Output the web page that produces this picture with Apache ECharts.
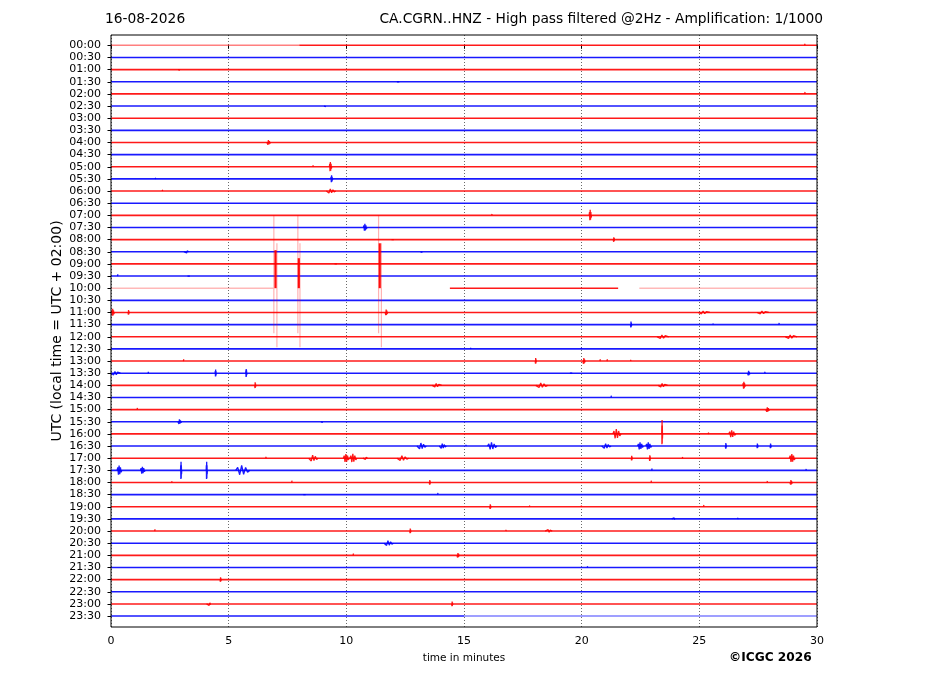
<!DOCTYPE html>
<html>
<head>
<meta charset="utf-8">
<script src="https://cdn.jsdelivr.net/npm/echarts@6/dist/echarts.min.js"></script>
<style>html,body{margin:0;padding:0;background:#fff}#c{width:927px;height:696px}</style>
</head>
<body>
<div id="c"></div>
<script>
// ---- tick labels ----
const timeLabels = ['00:00','00:30','01:00','01:30','02:00','02:30','03:00','03:30','04:00','04:30',
  '05:00','05:30','06:00','06:30','07:00','07:30','08:00','08:30','09:00','09:30',
  '10:00','10:30','11:00','11:30','12:00','12:30','13:00','13:30','14:00','14:30',
  '15:00','15:30','16:00','16:30','17:00','17:30','18:00','18:30','19:00','19:30',
  '20:00','20:30','21:00','21:30','22:00','22:30','23:00','23:30'];
const minuteTicks = [0, 5, 10, 15, 20, 25, 30];

// ---- events per row: [minute, amplitude up (rows), duration (min), amplitude down (rows, optional)] ----
const rowEvents = [
  [[29.5,0.12,0.06]],
  [],
  [[2.9,0.1,0.1]],
  [[12.2,0.15,0.1]],
  [[29.5,0.15,0.06]],
  [[9.1,0.1,0.1]],
  [],
  [],
  [[6.7,0.2,0.15]],
  [],
  [[8.6,0.12,0.05],[9.33,0.4,0.1]],
  [[1.9,0.1,0.05],[9.38,0.3,0.08]],
  [[2.2,0.1,0.05],[9.35,0.18,0.4]],
  [],
  [[16.2,0.1,0.05],[20.37,0.45,0.1]],
  [[10.8,0.3,0.15]],
  [[11.97,0.15,0.1],[21.37,0.2,0.05]],
  [[3.2,0.12,0.2],[13.2,0.1,0.1]],
  [[9.55,0.15,0.1]],
  [[0.3,0.15,0.05],[3.3,0.15,0.1]],
  [],
  [],
  [[0.08,0.3,0.12],[0.75,0.2,0.05],[11.7,0.25,0.1],[25.2,0.12,0.5],[27.7,0.12,0.5]],
  [[22.1,0.25,0.05],[25.6,0.1,0.05],[28.4,0.15,0.05]],
  [[23.45,0.15,0.5],[28.9,0.15,0.5]],
  [[15.3,0.1,0.05],[20.0,0.1,0.05]],
  [[3.1,0.15,0.05],[18.05,0.25,0.05],[20.1,0.25,0.1],[20.8,0.15,0.05],[21.1,0.15,0.05],[22.1,0.1,0.05]],
  [[0.2,0.15,0.4],[1.6,0.12,0.05],[4.45,0.3,0.05],[5.75,0.35,0.05],[19.55,0.15,0.1],[27.1,0.2,0.1],[27.8,0.12,0.05]],
  [[6.13,0.25,0.05],[13.85,0.15,0.4],[18.3,0.2,0.5],[23.45,0.15,0.4],[26.9,0.3,0.1]],
  [[21.27,0.15,0.05]],
  [[1.13,0.15,0.05],[27.9,0.2,0.15]],
  [[2.92,0.2,0.15],[8.97,0.12,0.1]],
  [[21.5,0.4,0.35],[23.42,1.15,0.04,0.95],[25.4,0.12,0.05],[26.4,0.3,0.3]],
  [[13.2,0.25,0.4],[14.1,0.2,0.3],[15.1,0.1,0.05],[16.2,0.3,0.4],[21.05,0.2,0.4],[22.5,0.3,0.25],[22.85,0.3,0.25],[26.13,0.25,0.05],[27.47,0.2,0.05],[28.03,0.2,0.05]],
  [[6.6,0.12,0.05],[8.6,0.25,0.4],[10.0,0.35,0.25],[10.3,0.35,0.3],[10.8,0.12,0.2],[12.4,0.2,0.5],[22.13,0.2,0.05],[22.9,0.25,0.05],[24.3,0.1,0.05],[28.95,0.35,0.25]],
  [[0.36,0.4,0.2],[1.35,0.3,0.2],[2.98,0.7,0.05,0.8],[4.07,0.7,0.05,0.8],[5.6,0.4,0.6],[23.0,0.15,0.05],[29.55,0.12,0.05]],
  [[2.6,0.1,0.05],[7.7,0.15,0.05],[13.55,0.2,0.05],[22.97,0.15,0.05],[27.9,0.12,0.05],[28.9,0.2,0.1]],
  [[8.22,0.15,0.1],[13.9,0.15,0.05]],
  [[16.12,0.2,0.05],[17.8,0.1,0.05],[20.0,0.1,0.05],[25.2,0.15,0.05]],
  [[23.9,0.15,0.15],[26.65,0.1,0.05]],
  [[1.88,0.15,0.05],[12.72,0.2,0.05],[16.8,0.1,0.05],[18.6,0.12,0.3]],
  [[11.8,0.2,0.4]],
  [[10.31,0.15,0.05],[14.75,0.2,0.1]],
  [[20.26,0.1,0.05]],
  [[4.66,0.2,0.05]],
  [],
  [[4.16,0.15,0.2],[14.5,0.2,0.05]],
  []
];

// ---- trace segments that differ from a full solid trace: [row, from min, to min, kind] ----
const rowSegments = [
  [0, 0, 8, 'light'], [0, 8, 30, 'solid'],
  [20, 0, 6.9, 'faint'], [20, 14.4, 21.55, 'solid'], [20, 22.45, 30, 'faint'],
  [47, 0, 15, 'solid'], [47, 15, 30, 'light']
];

// ---- large clipped spikes (row 10:00 trace): [minute, top row, bottom row, kind] ----
const spikeSegments = [
  [6.92, 14.0, 23.7, 'faint'], [7.05, 16.3, 24.86, 'faint'], [6.99, 16.87, 20.0, 'solid'],
  [7.94, 14.0, 23.7, 'faint'], [8.03, 16.3, 24.86, 'faint'], [7.98, 17.53, 20.0, 'solid'],
  [11.37, 14.0, 23.7, 'faint'], [11.49, 16.3, 24.86, 'faint'], [11.42, 16.3, 20.0, 'solid']
];

// fixed glyph used to draw one event (relative time, relative amplitude)
const glyph = [[-0.5,0],[-0.36,-0.6],[-0.22,0.9],[-0.08,-1],[0.06,0.8],[0.2,-0.6],[0.34,0.4],[0.5,0]];

const RED = '#ff0000', BLUE = '#0000ff';
const kindOpacity = { solid: 0.9, light: 0.5, faint: 0.28 };
const GAP = ['-', '-'];

function eventPoints(row) {
  const pts = [];
  (rowEvents[row] || []).forEach(ev => {
    const t = ev[0], a = ev[1], d = ev[2], dn = ev.length > 3 ? ev[3] : ev[1];
    glyph.forEach(g => {
      const x = Math.min(30, Math.max(0, t + g[0] * d));
      pts.push([x, row + (g[1] < 0 ? g[1] * a : g[1] * dn)]);
    });
    pts.push(GAP);
  });
  return pts;
}

const series = [];
timeLabels.forEach((lab, row) => {
  const color = row % 2 === 0 ? RED : BLUE;
  let segs = rowSegments.filter(s => s[0] === row);
  if (!segs.length) segs = [[row, 0, 30, 'solid']];
  segs.forEach(s => {
    series.push({
      type: 'line', data: [[s[1], row], [s[2], row]], symbol: 'none', silent: true,
      lineStyle: { color, width: 1.6, opacity: kindOpacity[s[3]] }, z: 3
    });
  });
  const ev = eventPoints(row);
  if (ev.length) {
    series.push({
      type: 'line', data: ev, symbol: 'none', silent: true, connectNulls: false,
      lineStyle: { color, width: 1.3, opacity: 0.9 }, z: 3
    });
  }
});
spikeSegments.forEach(s => {
  series.push({
    type: 'line', data: [[s[0], s[1]], [s[0], s[2]]], symbol: 'none', silent: true,
    lineStyle: { color: RED, width: s[3] === 'solid' ? 2.2 : 1.2, opacity: s[3] === 'solid' ? 0.95 : 0.3 }, z: 4
  });
});

const FONT = 'DejaVu Sans';
const chart = echarts.init(document.getElementById('c'), null, { renderer: 'canvas' });
chart.setOption({
  animation: false,
  backgroundColor: '#fff',
  textStyle: { fontFamily: FONT },
  title: [
    { text: '16-08-2026', left: 105, top: 12, padding: 0,
      textStyle: { fontFamily: FONT, fontSize: 13.8, fontWeight: 'normal', color: '#000' } },
    { text: 'CA.CGRN..HNZ - High pass filtered @2Hz - Amplification: 1/1000', right: 104, top: 12, padding: 0,
      textStyle: { fontFamily: FONT, fontSize: 13.8, fontWeight: 'normal', color: '#000' } },
    { text: '©ICGC 2026', left: 729, top: 652, padding: 0,
      textStyle: { fontFamily: FONT, fontSize: 12.2, fontWeight: 'bold', color: '#000' } }
  ],
  graphic: [{
    type: 'text', x: 57, y: 331, rotation: Math.PI / 2, silent: true,
    style: { text: 'UTC (local time = UTC + 02:00)', font: '14px "DejaVu Sans"', fill: '#000',
      textAlign: 'center', textVerticalAlign: 'middle' }
  }],
  grid: { left: 111, right: 110, top: 35, bottom: 69, show: true, borderColor: '#000', borderWidth: 1, backgroundColor: 'transparent', z: 10 },
  xAxis: {
    type: 'value', min: 0, max: 30, interval: 5,
    name: 'time in minutes', nameLocation: 'middle', nameGap: 26,
    nameTextStyle: { fontFamily: FONT, fontSize: 10.5, color: '#000' },
    axisLine: { show: false },
    axisTick: { show: true, inside: false, length: 3.5, lineStyle: { color: '#000' } },
    axisLabel: { fontFamily: FONT, fontSize: 11, color: '#000', margin: 9,
      formatter: v => minuteTicks.indexOf(v) >= 0 ? String(v) : '' },
    splitLine: { show: true, lineStyle: { color: '#444', width: 0.8, type: [1, 2] } }
  },
  yAxis: {
    type: 'value', inverse: true, min: -0.85, max: 47.9,
    axisLine: { show: false },
    axisTick: { show: true, inside: false, length: 3.5, lineStyle: { color: '#000' },
      customValues: timeLabels.map((l, i) => i) },
    axisLabel: { fontFamily: FONT, fontSize: 11, color: '#000', margin: 10,
      customValues: timeLabels.map((l, i) => i),
      formatter: v => timeLabels[Math.round(v)] || '' },
    splitLine: { show: false }
  },
  series
});
</script>
</body>
</html>
